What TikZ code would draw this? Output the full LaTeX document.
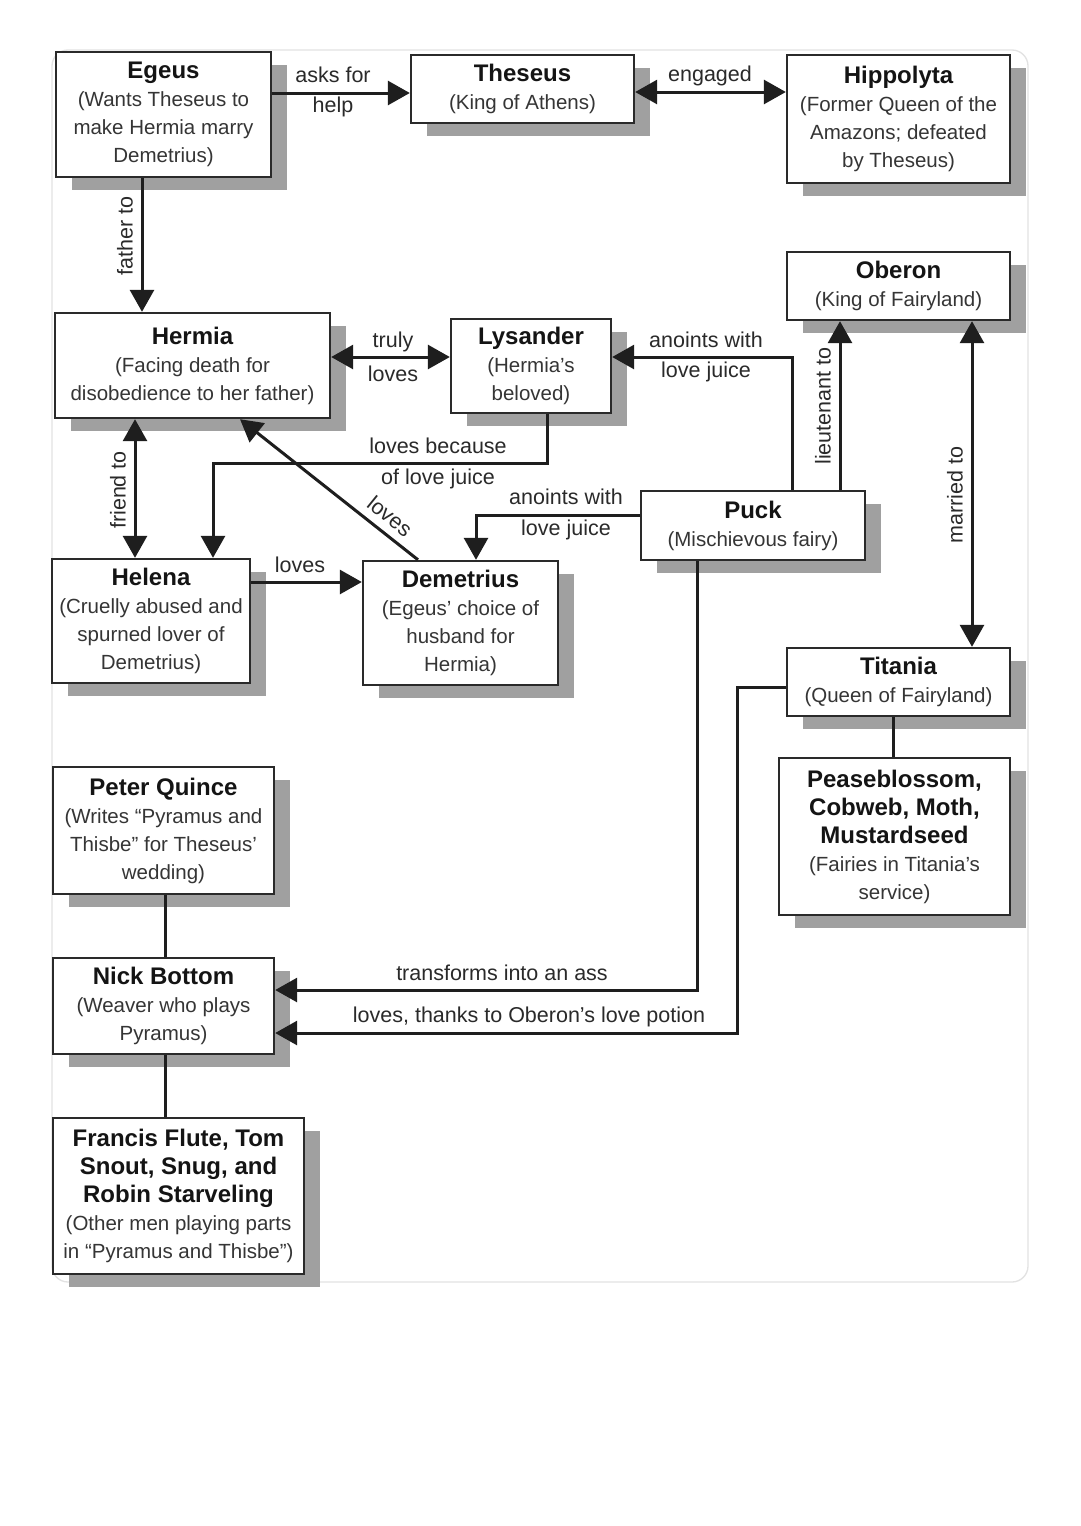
\documentclass[tikz,border=0pt]{standalone}
\usepackage{fontspec}
\setmainfont{Liberation Sans}
\usetikzlibrary{arrows.meta,shadows}
\definecolor{boxc}{HTML}{2A2A2A}
\definecolor{titc}{HTML}{141414}
\definecolor{subc}{HTML}{353535}
\definecolor{labc}{HTML}{2A2A2A}
\definecolor{linec}{HTML}{1E1E1E}
\definecolor{shadc}{HTML}{A0A0A0}
\definecolor{framec}{HTML}{E2E2E2}
\newcommand{\chartitle}[1]{{\fontsize{24}{29}\selectfont\bfseries\color{titc}#1}}
\begin{document}
\begin{tikzpicture}[x=1pt,y=-1pt,
  box/.style={draw=boxc, line width=2.4pt, fill=white, align=center, inner sep=2pt,
    font=\fontsize{20.5}{28}\selectfont, text=subc,
    drop shadow={shadow xshift=16pt, shadow yshift=-13pt, fill=shadc, opacity=1}},
  lab/.style={font=\fontsize{21.5}{26}\selectfont, text=labc, inner sep=1pt},
  ln/.style={draw=linec, line width=3pt},
  arr/.style={ln, -{Triangle[length=22pt,width=24pt]}},
  darr/.style={ln, {Triangle[length=22pt,width=24pt]}-{Triangle[length=22pt,width=24pt]}}]
\useasboundingbox (0,0) rectangle (1080,1526);
\fill[white] (0,0) rectangle (1080,1526);
\draw[framec, line width=1.3pt, rounded corners=16pt] (52,50) rectangle (1028,1282);

% boxes
\node[box, minimum width=215pt, minimum height=125pt] (egeus) at (163.5,114.5)
  {\chartitle{Egeus}\\(Wants Theseus to\\make Hermia marry\\Demetrius)};
\node[box, minimum width=223pt, minimum height=68pt] (theseus) at (522.5,89)
  {\chartitle{Theseus}\\(King of Athens)};
\node[box, minimum width=223pt, minimum height=128pt] (hippolyta) at (898.5,119)
  {\chartitle{Hippolyta}\\(Former Queen of the\\Amazons; defeated\\by Theseus)};
\node[box, minimum width=275pt, minimum height=105pt] (hermia) at (192.5,365.5)
  {\chartitle{Hermia}\\(Facing death for\\disobedience to her father)};
\node[box, minimum width=160pt, minimum height=94pt] (lysander) at (531,366)
  {\chartitle{Lysander}\\(Hermia’s\\beloved)};
\node[box, minimum width=223pt, minimum height=68pt] (oberon) at (898.5,286)
  {\chartitle{Oberon}\\(King of Fairyland)};
\node[box, minimum width=224pt, minimum height=69pt] (puck) at (753,525.5)
  {\chartitle{Puck}\\(Mischievous fairy)};
\node[box, minimum width=198pt, minimum height=124pt] (helena) at (151,621)
  {\chartitle{Helena}\\(Cruelly abused and\\spurned lover of\\Demetrius)};
\node[box, minimum width=195pt, minimum height=124pt] (demetrius) at (460.5,623)
  {\chartitle{Demetrius}\\(Egeus’ choice of\\husband for\\Hermia)};
\node[box, minimum width=223pt, minimum height=68pt] (titania) at (898.5,682)
  {\chartitle{Titania}\\(Queen of Fairyland)};
\node[box, minimum width=231pt, minimum height=157pt] (pease) at (894.5,836.5)
  {\chartitle{Peaseblossom,}\\\chartitle{Cobweb, Moth,}\\\chartitle{Mustardseed}\\(Fairies in Titania’s\\service)};
\node[box, minimum width=221pt, minimum height=127pt] (quince) at (163.5,830.5)
  {\chartitle{Peter Quince}\\(Writes “Pyramus and\\Thisbe” for Theseus’\\wedding)};
\node[box, minimum width=221pt, minimum height=96pt] (bottom) at (163.5,1006)
  {\chartitle{Nick Bottom}\\(Weaver who plays\\Pyramus)};
\node[box, minimum width=251pt, minimum height=156pt] (flute) at (178.5,1196)
  {\chartitle{Francis Flute, Tom}\\\chartitle{Snout, Snug, and}\\\chartitle{Robin Starveling}\\(Other men playing parts\\in “Pyramus and Thisbe”)};

% helper coordinates
\coordinate (h93) at (0,93);
\coordinate (h92) at (0,92);
\coordinate (h357) at (0,357);
\coordinate (h582) at (0,582);
\coordinate (v142) at (142,0);
\coordinate (v840) at (840,0);
\coordinate (v972) at (972,0);
\coordinate (v135) at (135,0);
\coordinate (v418) at (418,0);
\coordinate (v240) at (240,0);
\coordinate (v893) at (893,0);
\coordinate (v165) at (165,0);
\coordinate (b1) at (792,357);
\coordinate (b2) at (547,463);
\coordinate (b3) at (213,463);
\coordinate (b4) at (476,515);
\coordinate (b5) at (697,990);
\coordinate (b6) at (737,687);
\coordinate (b7) at (737,1033);

% connectors
\draw[arr] (egeus.east |- h93) -- (theseus.west |- h93);
\draw[darr] (theseus.east |- h92) -- (hippolyta.west |- h92);
\draw[arr] (egeus.south -| v142) -- (hermia.north -| v142);
\draw[darr] (hermia.east |- h357) -- (lysander.west |- h357);
\draw[arr] (puck.north -| b1) -- (b1) -- (lysander.east |- b1);
\draw[arr] (puck.north -| v840) -- (oberon.south -| v840);
\draw[darr] (oberon.south -| v972) -- (titania.north -| v972);
\draw[arr] (lysander.south -| b2) -- (b2) -- (b3) -- (helena.north -| b3);
\draw[darr] (hermia.south -| v135) -- (helena.north -| v135);
\draw[arr] (demetrius.north -| v418) -- (hermia.south -| v240);
\draw[arr] (puck.west |- b4) -- (b4) -- (demetrius.north -| b4);
\draw[arr] (helena.east |- h582) -- (demetrius.west |- h582);
\draw[arr] (puck.south -| b5) -- (b5) -- (bottom.east |- b5);
\draw[arr] (titania.west |- b6) -- (b6) -- (b7) -- (bottom.east |- b7);
\draw[ln] (titania.south -| v893) -- (pease.north -| v893);
\draw[ln] (quince.south -| v165) -- (bottom.north -| v165);
\draw[ln] (bottom.south -| v165) -- (flute.north -| v165);

% labels
\node[lab] (l1a) at (333,75) {asks for};
\node[lab] (l1b) at (333,107) {help};
\node[lab] (l2) at (710,76) {engaged};
\node[lab, rotate=90] (l3) at (125,236) {father to};
\node[lab] (l4a) at (393,342) {truly};
\node[lab] (l4b) at (393,374) {loves};
\node[lab] (l5a) at (706,340) {anoints with};
\node[lab] (l5b) at (706,372) {love juice};
\node[lab, rotate=90] (l6) at (823,406) {lieutenant to};
\node[lab, rotate=90] (l7) at (955,495) {married to};
\node[lab] (l8a) at (438,446) {loves because};
\node[lab] (l8b) at (438,479) {of love juice};
\node[lab, rotate=90] (l9) at (118,490) {friend to};
\node[lab, rotate=-39] (l10) at (390,516) {loves};
\node[lab] (l11a) at (566,497) {anoints with};
\node[lab] (l11b) at (566,530) {love juice};
\node[lab] (l12) at (300,565) {loves};
\node[lab] (l13) at (502,973) {transforms into an ass};
\node[lab] (l14) at (529,1017) {loves, thanks to Oberon’s love potion};
\end{tikzpicture}
\end{document}
